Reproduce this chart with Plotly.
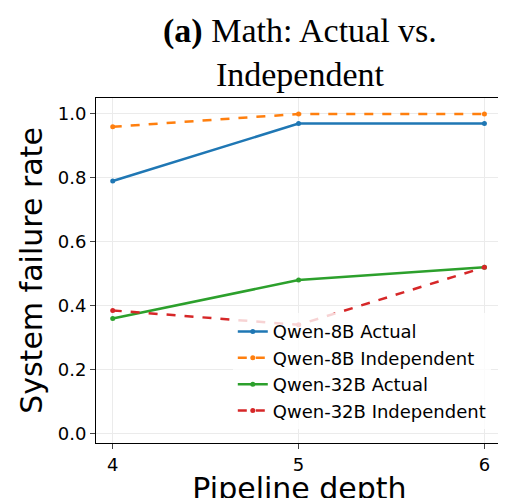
import plotly.graph_objects as go

depth = [4, 5, 6]
qwen8_actual = [0.79, 0.97, 0.97]
qwen8_indep = [0.96, 1.00, 1.00]
qwen32_actual = [0.36, 0.48, 0.52]
qwen32_indep = [0.385, 0.34, 0.52]

series = [
    ('Qwen-8B Actual', qwen8_actual, '#1f77b4', 'solid'),
    ('Qwen-8B Independent', qwen8_indep, '#ff7f0e', 'dash'),
    ('Qwen-32B Actual', qwen32_actual, '#2ca02c', 'solid'),
    ('Qwen-32B Independent', qwen32_indep, '#d62728', 'dash'),
]

fig = go.Figure()
for name, vals, color, dash in series:
    fig.add_trace(go.Scatter(x=depth, y=vals, name=name, mode='lines+markers',
                             line=dict(color=color, width=2.5, dash=dash),
                             marker=dict(size=5, color=color)))

# title as annotation so it does not push the margins
fig.add_annotation(text='<b>(a)</b> Math: Actual vs.<br>Independent', xref='paper', yref='paper',
                   x=0.5, y=1.0, yshift=88, xanchor='center', yanchor='top', showarrow=False,
                   font=dict(family='Liberation Serif', size=34, color='black'))

fig.update_layout(
    width=506, height=498,
    margin=dict(l=88, r=11, t=90, b=63),
    plot_bgcolor='white', paper_bgcolor='white',
    font=dict(family='DejaVu Sans', color='black'),
    legend=dict(x=0.97, y=0.04, xanchor='right', yanchor='bottom', bgcolor='rgba(255,255,255,0.8)',
                font=dict(size=18), tracegroupgap=0),
    xaxis=dict(title=dict(text='Pipeline depth', font=dict(size=30), standoff=6),
               range=[3.91, 6.1], tickvals=depth, tickfont=dict(size=18), automargin=False,
               showgrid=True, gridcolor='#ebebeb', showline=True, linecolor='black', mirror=True,
               ticks='outside', ticklen=5, zeroline=False),
    yaxis=dict(title=dict(text='System failure rate', font=dict(size=30), standoff=6),
               range=[-0.03, 1.05], tickvals=[0, 0.2, 0.4, 0.6, 0.8, 1.0], tickformat='.1f',
               automargin=False,
               tickfont=dict(size=18), showgrid=True, gridcolor='#ebebeb', showline=True,
               linecolor='black', mirror=True, ticks='outside', ticklen=5, zeroline=False),
)

fig.write_html('out.html')
